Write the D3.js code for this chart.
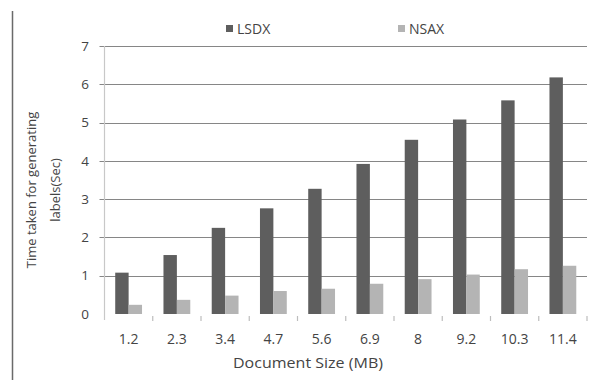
<!DOCTYPE html>
<html>
<head>
<meta charset="utf-8">
<script src="https://cdn.jsdelivr.net/npm/d3@7"></script>
<style>
  html, body { margin: 0; padding: 0; background: #fff; }
  svg { display: block; }
  text { font-family: "Open Sans", "DejaVu Sans", sans-serif; fill: #444; }
</style>
</head>
<body>
<svg id="chart" width="602" height="380"></svg>
<script>
// Document sizes (MB) on the x axis
const categories = ["1.2", "2.3", "3.4", "4.7", "5.6", "6.9", "8", "9.2", "10.3", "11.4"];
// Label generation time in seconds
const lsdx = [1.08, 1.54, 2.25, 2.76, 3.27, 3.92, 4.55, 5.08, 5.58, 6.18];
const nsax = [0.24, 0.37, 0.48, 0.60, 0.66, 0.79, 0.91, 1.03, 1.17, 1.26];
const seriesNames = ["LSDX", "NSAX"];
const yTicks = [0, 1, 2, 3, 4, 5, 6, 7];

const colors = { LSDX: "#5e5e5e", NSAX: "#b4b4b4" };
const seriesValues = { LSDX: lsdx, NSAX: nsax };

const svg = d3.select("#chart");

const plot = { left: 104.5, right: 587, top: 46, bottom: 314 };

const x0 = d3.scaleBand().domain(categories).range([plot.left, plot.right]).padding(0);
const x1 = d3.scaleBand().domain(seriesNames).range([0, x0.bandwidth()])
  .paddingInner(0).paddingOuter(0.8);
const y = d3.scaleLinear().domain([0, 7]).range([plot.bottom, plot.top]);

// frame line on the left edge
svg.append("line")
  .attr("x1", 12.5).attr("x2", 12.5).attr("y1", 11).attr("y2", 380)
  .attr("stroke", "#6a6a6a").attr("stroke-width", 1.5);

// horizontal gridlines with small ticks left of the axis
svg.append("g").selectAll("line").data(yTicks.filter(d => d > 0)).join("line")
  .attr("x1", plot.left - 5).attr("x2", plot.right)
  .attr("y1", d => Math.round(y(d)) + 0.5).attr("y2", d => Math.round(y(d)) + 0.5)
  .attr("stroke", "#868686").attr("stroke-width", 1);

// y axis line
svg.append("line")
  .attr("x1", plot.left).attr("x2", plot.left)
  .attr("y1", plot.top).attr("y2", plot.bottom + 6)
  .attr("stroke", "#c8c8c8").attr("stroke-width", 1.2);

// y tick labels
svg.append("g").selectAll("text").data(yTicks).join("text")
  .attr("x", 89).attr("y", d => y(d))
  .attr("dy", "0.35em").attr("text-anchor", "end")
  .attr("font-size", 13.5)
  .text(d => d);

// x tick marks at band boundaries
const boundaries = categories.map(c => x0(c)).concat([plot.right]);
svg.append("g").selectAll("line").data(boundaries.slice(1)).join("line")
  .attr("x1", d => d).attr("x2", d => d)
  .attr("y1", plot.bottom + 2).attr("y2", plot.bottom + 7)
  .attr("stroke", "#bdbdbd").attr("stroke-width", 1.2);

// bars
const groups = svg.append("g").selectAll("g").data(categories).join("g")
  .attr("transform", c => `translate(${x0(c)},0)`);
groups.selectAll("rect")
  .data((c, i) => seriesNames.map(s => ({ s, v: seriesValues[s][i] })))
  .join("rect")
  .attr("x", d => x1(d.s))
  .attr("width", x1.bandwidth())
  .attr("y", d => y(d.v))
  .attr("height", d => y(0) - y(d.v))
  .attr("fill", d => colors[d.s]);

// x tick labels
svg.append("g").selectAll("text").data(categories).join("text")
  .attr("x", c => x0(c) + x0.bandwidth() / 2)
  .attr("y", 339).attr("dy", "0.35em")
  .attr("text-anchor", "middle").attr("font-size", 14)
  .text(c => c);

// x axis title
svg.append("text")
  .attr("x", 308).attr("y", 363).attr("dy", "0.35em")
  .attr("text-anchor", "middle").attr("font-size", 14.5)
  .attr("textLength", 150).attr("lengthAdjust", "spacingAndGlyphs")
  .text("Document Size (MB)");

// y axis title, two lines
const yTitle = svg.append("text")
  .attr("transform", "translate(31,190) rotate(-90)")
  .attr("text-anchor", "middle").attr("font-size", 13);
yTitle.append("tspan").attr("x", 0).attr("dy", "0.35em").text("Time taken for generating");
yTitle.append("tspan").attr("x", 0).attr("dy", "1.85em").text("labels(Sec)");

// legend
const legendItems = [{ s: "LSDX", x: 226 }, { s: "NSAX", x: 398 }];
const legend = svg.append("g").selectAll("g").data(legendItems).join("g")
  .attr("transform", d => `translate(${d.x},0)`);
legend.append("rect")
  .attr("x", 0).attr("y", 25).attr("width", 7).attr("height", 7)
  .attr("fill", d => colors[d.s]);
legend.append("text")
  .attr("x", 11).attr("y", 29).attr("dy", "0.35em")
  .attr("font-size", 14)
  .text(d => d.s);
</script>
</body>
</html>
